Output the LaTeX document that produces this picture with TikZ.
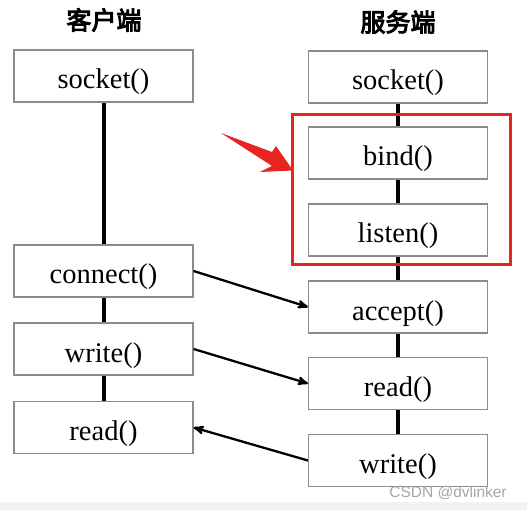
\documentclass[tikz,border=0pt]{standalone}
\usepackage{fontspec}
\setmainfont{Liberation Serif}
\setsansfont{Liberation Sans}
\newfontfamily\cjk[FakeBold=4]{Noto Sans CJK SC}
\usepackage{tikz}
\usetikzlibrary{arrows}
\usetikzlibrary{positioning}
\definecolor{hlred}{RGB}{232,36,32}

\begin{document}
\begin{tikzpicture}
			[x=1pt,y=-1pt,
			box/.style={draw=black!45,line width=1.2pt,fill=white,minimum width=179pt,minimum height=52pt,inner sep=0pt,text height=26pt,text depth=0pt,font=\fontsize{28.5}{30}\selectfont},
			title/.style={font=\cjk\fontsize{25}{27}\selectfont},
			link/.style={line width=4pt},
			msg/.style={line width=2.3pt,-stealth'}]
			\useasboundingbox (0,0) rectangle (527,510);
			\fill[black!5] (0,502) rectangle (527,510);
			
			\node[title] (tc) at (104,20) {客户端};
			\node[title] (ts) at (398,22) {服务端};
			
			% client side
			\node[box] (c1) at (103.5,76) {socket()};
			\node[box] (c2) at (103.5,271) {connect()};
			\node[box] (c3) at (103.5,349) {write()};
			\node[box] (c4) at (103.5,427.5) {read()};
			
			% server side
			\node[box] (s1) at (398,77) {socket()};
			\node[box] (s2) at (398,153) {bind()};
			\node[box] (s3) at (398,230) {listen()};
			\node[box] (s4) at (398,307) {accept()};
			\node[box] (s5) at (398,383.5) {read()};
			\node[box] (s6) at (398,460.5) {write()};
			
			\foreach \from/\to in 
			{c1/c2, c2/c3, c3/c4, s1/s2, s2/s3, s3/s4, s4/s5, s5/s6}
			\draw[link] (\from) -- (\to);
			
			\draw[msg] (c2.east) -- (s4.west);
			\draw[msg] (c3.east) -- (s5.west);
			\draw[msg] (s6.west) -- (c4.east);
			
			% highlight
			\draw[hlred,line width=3pt] (292,115) rectangle (510,265);
			\fill[hlred] (221,133) -- (272,152) -- (276,146) -- (293,170.5) -- (260,172) -- (272,166) -- cycle;
			
			\node[text=black!35,font=\sffamily\fontsize{15.5}{17}\selectfont] (wm) at (448,493) {CSDN @dvlinker};
			\end{tikzpicture}
\end{document}
